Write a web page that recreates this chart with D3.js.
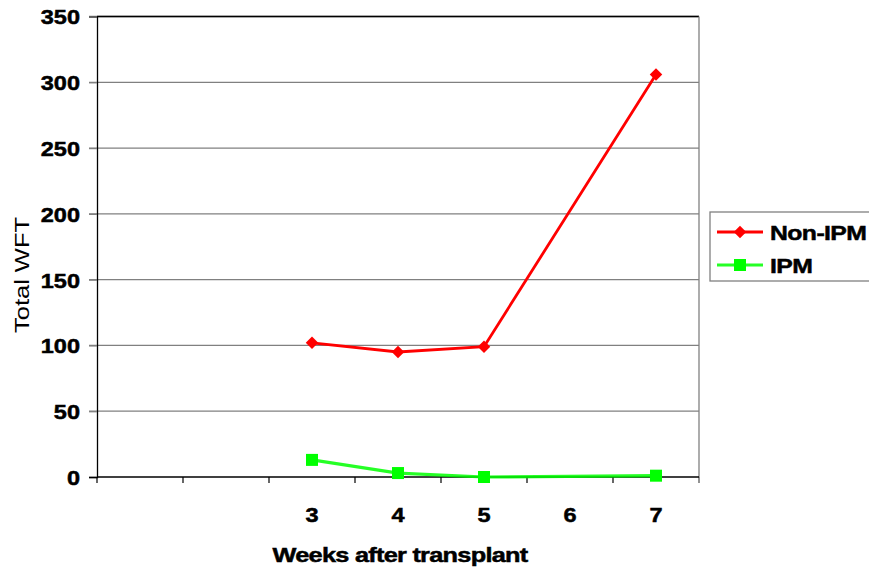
<!DOCTYPE html>
<html><head><meta charset="utf-8">
<script src="https://cdn.jsdelivr.net/npm/d3@7"></script>
<style>body{margin:0;background:#fff;}svg{display:block;font-family:Arial,"Liberation Sans",sans-serif;}
.b{font-weight:bold;stroke:#000;stroke-width:0.5px;fill:#000;}</style>
</head><body>
<script>
const tickLabels = ["", "", "3", "4", "5", "6", "7"];
const nonIPM = [null, null, 102, 95, 99, null, 306];
const ipm = [null, null, 13, 3, 0, null, 1];
const yTicks = [0, 50, 100, 150, 200, 250, 300, 350];
const seriesNames = ["Non-IPM", "IPM"];
const seriesColors = ["#FF0000", "#00FF00"];

const W = 869, H = 571;
const svg = d3.select("body").append("svg").attr("width", W).attr("height", H);
const L = 97, R = 699, T = 16.5, B = 477;
const x = d3.scaleBand().domain(d3.range(tickLabels.length)).range([L, R]).padding(0);
const y = d3.scaleLinear().domain([0, 350]).range([B, T]);

function stretch(sel, f) {
  sel.each(function(){ const n = this.getComputedTextLength(); d3.select(this).attr("textLength", n*f).attr("lengthAdjust","spacingAndGlyphs"); });
}

// gridlines
svg.append("g").selectAll("line").data(yTicks.filter(d => d > 0)).join("line")
  .attr("x1", L - 8).attr("x2", R).attr("y1", d => y(d)).attr("y2", d => y(d))
  .attr("stroke", "#808080").attr("stroke-width", 1.3);
svg.append("line").attr("x1", L).attr("x2", R).attr("y1", T).attr("y2", T).attr("stroke", "#000").attr("stroke-width", 1.5);
svg.append("line").attr("x1", R).attr("x2", R).attr("y1", T).attr("y2", B + 6).attr("stroke", "#808080").attr("stroke-width", 1.3);

// y axis
const yAxis = svg.append("g").attr("transform", `translate(${L},0)`)
  .call(d3.axisLeft(y).tickValues(yTicks).tickSize(8).tickPadding(9));
yAxis.select(".domain").attr("stroke", "#000").attr("stroke-width", 1.3);
yAxis.selectAll(".tick line").attr("stroke", d => d === 0 ? "#000" : "#808080").attr("stroke-width", 1.3);
yAxis.selectAll(".tick text").attr("class", "b").attr("font-size", 21)
  .attr("font-family", "Arial, 'Liberation Sans', sans-serif").attr("dy", "0.35em");
stretch(yAxis.selectAll(".tick text"), 1.12);

// x axis
const bounds = d3.range(tickLabels.length + 1).map(i => L + i * x.bandwidth());
svg.append("g").selectAll("line").data(bounds).join("line")
  .attr("x1", d => d).attr("x2", d => d).attr("y1", B).attr("y2", B + 6)
  .attr("stroke", (d, i) => i === tickLabels.length ? "#808080" : "#000").attr("stroke-width", 1.2);
svg.append("line").attr("x1", L).attr("x2", R).attr("y1", B).attr("y2", B).attr("stroke", "#000").attr("stroke-width", 1.6);
const xl = svg.append("g").selectAll("text").data(tickLabels).join("text")
  .attr("class", "b")
  .attr("x", (d, i) => x(i) + x.bandwidth() / 2).attr("y", 522)
  .attr("text-anchor", "middle").attr("font-size", 21).text(d => d);
stretch(xl.filter(d => d !== ""), 1.12);

// titles
svg.append("text").attr("class", "b").attr("x", 400).attr("y", 562).attr("text-anchor", "middle")
  .attr("font-size", 21).attr("letter-spacing", "-0.6").attr("textLength", 255).attr("lengthAdjust", "spacingAndGlyphs")
  .text("Weeks after transplant");
svg.append("text").attr("transform", "translate(29,275) rotate(-90)").attr("text-anchor", "middle")
  .attr("font-size", 21).attr("textLength", 116).attr("lengthAdjust", "spacingAndGlyphs").text("Total WFT");

// series
const line = d3.line().x(d => x(d.i) + x.bandwidth() / 2).y(d => y(d.v));
const series = [nonIPM, ipm].map(arr => arr.map((v, i) => ({ i, v })).filter(d => d.v !== null));

series.forEach((pts, s) => {
  svg.append("path").attr("d", line(pts)).attr("fill", "none")
    .attr("stroke", seriesColors[s]).attr("stroke-width", s === 0 ? 2.8 : 3.2).attr("stroke-opacity", s === 0 ? 1 : 0.85);
});
svg.append("g").selectAll("path").data(series[0]).join("path")
  .attr("transform", d => `translate(${x(d.i) + x.bandwidth() / 2},${y(d.v)}) rotate(45)`)
  .attr("d", d3.symbol().type(d3.symbolSquare).size(78)).attr("fill", seriesColors[0]);
svg.append("g").selectAll("rect").data(series[1]).join("rect")
  .attr("x", d => x(d.i) + x.bandwidth() / 2 - 6).attr("y", d => y(d.v) - 6)
  .attr("width", 12).attr("height", 12).attr("fill", seriesColors[1]);

// legend
const lg = svg.append("g");
lg.append("rect").attr("x", 710).attr("y", 212).attr("width", 200).attr("height", 69)
  .attr("fill", "#fff").attr("stroke", "#808080").attr("stroke-width", 1.3);
const rowsY = [232, 265];
seriesNames.forEach((name, s) => {
  const ry = rowsY[s];
  lg.append("line").attr("x1", 717).attr("x2", 763).attr("y1", ry).attr("y2", ry)
    .attr("stroke", seriesColors[s]).attr("stroke-width", s === 0 ? 2.8 : 3.2).attr("stroke-opacity", s === 0 ? 1 : 0.85);
  if (s === 0) {
    lg.append("path").attr("transform", `translate(740,${ry}) rotate(45)`)
      .attr("d", d3.symbol().type(d3.symbolSquare).size(78)).attr("fill", seriesColors[0]);
  } else {
    lg.append("rect").attr("x", 734).attr("y", ry - 6).attr("width", 12).attr("height", 12).attr("fill", seriesColors[1]);
  }
  const t = lg.append("text").attr("class", "b").attr("x", 770).attr("y", ry + 7.5).attr("font-size", 21).attr("letter-spacing", "-0.5").text(name);
  stretch(t, 1.18);
});
</script>
</body></html>
